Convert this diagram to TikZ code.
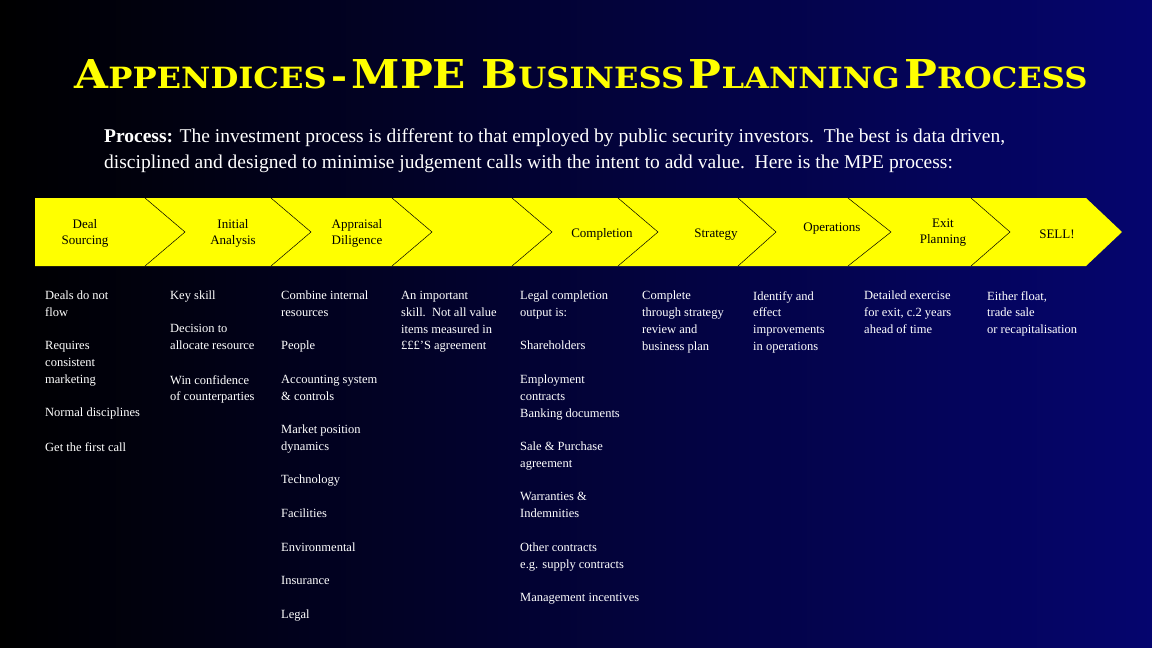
\documentclass[tikz,border=0pt]{standalone}
\usepackage{fontspec}
\setmainfont{Liberation Serif}
\newfontfamily\ttlfont{DejaVu Serif}
\definecolor{band}{RGB}{255,255,0}
\definecolor{navyR}{RGB}{5,5,110}
\newcommand{\bigsc}[2]{{\fontsize{34}{34}\selectfont #1}{\fontsize{25}{25}\selectfont #2}}
\begin{document}
\begin{tikzpicture}[x=1pt,y=-1pt,
  item/.style={anchor=north west,align=left,inner sep=0pt,font=\fontsize{12.5}{16.8}\selectfont,text=white},
  head/.style={align=center,inner sep=0pt,font=\fontsize{13}{16}\selectfont,text=black}]
\shade[left color=black,right color=navyR] (0,0) rectangle (1152,648);
\useasboundingbox (0,0) rectangle (1152,648);
\node[inner sep=0pt,text=band] (title) at (581,74) {\resizebox{1013pt}{29pt}{\ttlfont\bfseries \bigsc{A}{PPENDICES} {\fontsize{30}{30}\selectfont -} \bigsc{MPE B}{USINESS} \bigsc{P}{LANNING} \bigsc{P}{ROCESS}}};
\node[anchor=north west,inner sep=0pt,text=white,align=left,font=\fontsize{19.5}{26}\selectfont] (proc) at (104,129)
 {\textbf{Process:} The investment process is different to that employed by public security investors.\ \ The best is data driven,\\
 disciplined and designed to minimise judgement calls with the intent to add value.\ \ Here is the MPE process:};
\fill[band] (35,198) -- (1086,198) -- (1122,232) -- (1086,266) -- (35,266) -- cycle;
\foreach \a/\b in {145/185,271/311,392/432,512/552,618/658,738/776,848/891,971/1010}
  \draw[black,line width=0.5pt] (\a,198) -- (\b,232) -- (\a,266);
\node[head] (h1) at (85,233) {Deal\\Sourcing};
\node[head] (h2) at (233,233) {Initial\\Analysis};
\node[head] (h3) at (357,233) {Appraisal\\Diligence};
\node[head] (h5) at (602,234) {Completion};
\node[head] (h6) at (716,235) {Strategy};
\node[head] (h7) at (832,229) {Operations};
\node[head] (h8) at (943,233) {Exit\\Planning};
\node[head] (h9) at (1057,234) {SELL!};
% column 1
\node[item] (a1) at (45,291) {Deals do not\\flow};
\node[item] (a2) at (45,341) {Requires\\consistent\\marketing};
\node[item] (a3) at (45,408) {Normal disciplines};
\node[item] (a4) at (45,442) {Get the first call};
% column 2
\node[item] (b1) at (170,291) {Key skill};
\node[item] (b2) at (170,324) {Decision to\\allocate resource};
\node[item] (b3) at (170,375) {Win confidence\\of counterparties};
% column 3
\node[item] (c1) at (281,291) {Combine internal\\resources};
\node[item] (c2) at (281,341) {People};
\node[item] (c3) at (281,375) {Accounting system\\\& controls};
\node[item] (c4) at (281,425) {Market position\\dynamics};
\node[item] (c5) at (281,475) {Technology};
\node[item] (c6) at (281,509) {Facilities};
\node[item] (c7) at (281,543) {Environmental};
\node[item] (c8) at (281,576) {Insurance};
\node[item] (c9) at (281,610) {Legal};
% column 4
\node[item] (d1) at (401,291) {An important\\skill.\ \ Not all value\\items measured in\\£££'S agreement};
% column 5
\node[item] (e1) at (520,291) {Legal completion\\output is:};
\node[item] (e2) at (520,341) {Shareholders};
\node[item] (e3) at (520,375) {Employment\\contracts\\Banking documents};
\node[item] (e4) at (520,442) {Sale \& Purchase\\agreement};
\node[item] (e5) at (520,492) {Warranties \&\\Indemnities};
\node[item] (e6) at (520,543) {Other contracts\\e.g. supply contracts};
\node[item] (e7) at (520,593) {Management incentives};
% others
\node[item] (f1) at (642,291) {Complete\\through strategy\\review and\\business plan};
\node[item] (g1) at (753,291) {Identify and\\effect\\improvements\\in operations};
\node[item] (k1) at (864,291) {Detailed exercise\\for exit, c.2 years\\ahead of time};
\node[item] (m1) at (987,291) {Either float,\\trade sale\\or recapitalisation};
\end{tikzpicture}
\end{document}
